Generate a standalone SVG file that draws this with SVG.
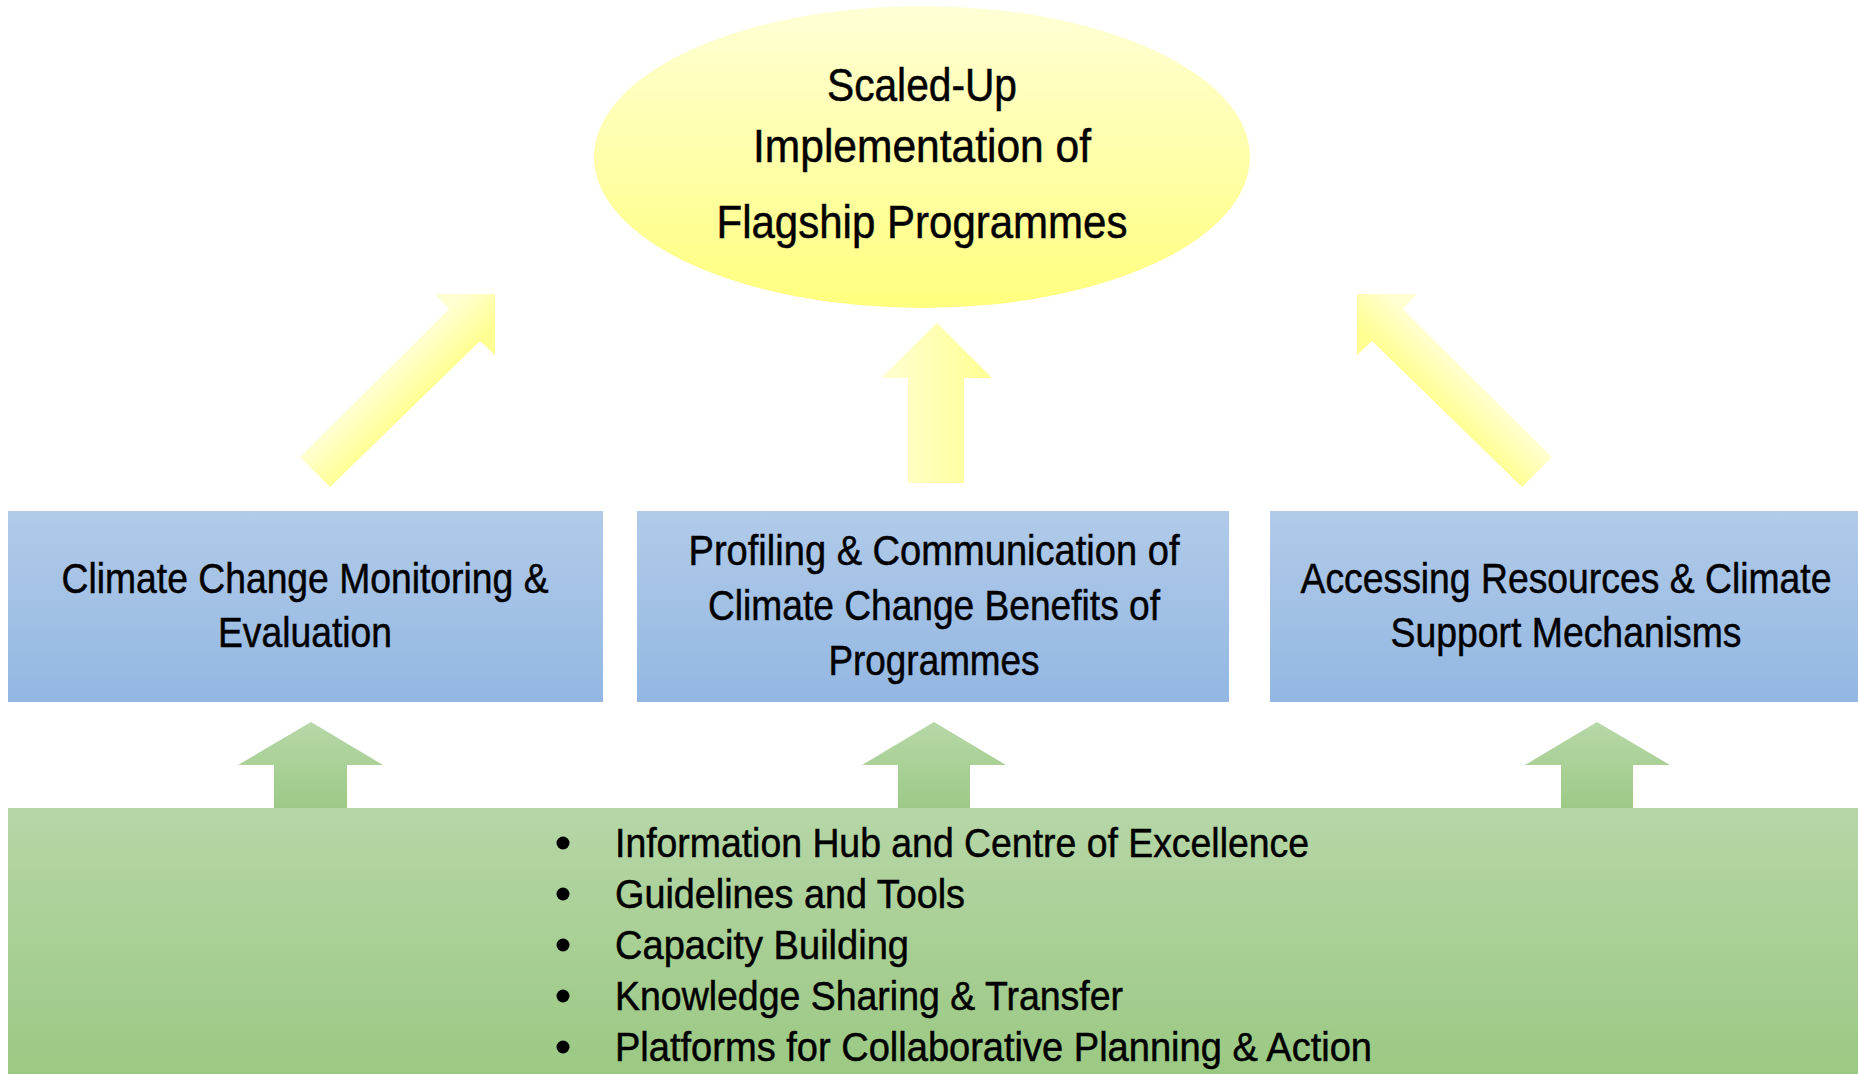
<svg xmlns="http://www.w3.org/2000/svg" width="1858" height="1074" viewBox="0 0 1858 1074">
<defs>
<linearGradient id="gEll" x1="0" y1="0" x2="0" y2="1">
<stop offset="0" stop-color="#FFFFD6"/>
<stop offset="1" stop-color="#FFFF7E"/>
</linearGradient>
<linearGradient id="gBlue" x1="0" y1="0" x2="0" y2="1">
<stop offset="0" stop-color="#B1CBE9"/>
<stop offset="1" stop-color="#93B7E2"/>
</linearGradient>
<linearGradient id="gGreen" x1="0" y1="0" x2="0" y2="1">
<stop offset="0" stop-color="#B6D6A7"/>
<stop offset="1" stop-color="#9BC983"/>
</linearGradient>
<linearGradient id="gGreenArrow" x1="0" y1="0" x2="0" y2="1">
<stop offset="0" stop-color="#B7D7A8"/>
<stop offset="1" stop-color="#9CCA86"/>
</linearGradient>
<linearGradient id="gYL" gradientUnits="userSpaceOnUse" x1="398" y1="359" x2="430" y2="391">
<stop offset="0" stop-color="#FFFFD2"/>
<stop offset="1" stop-color="#FFFF92"/>
</linearGradient>
<linearGradient id="gYR" gradientUnits="userSpaceOnUse" x1="1454" y1="359" x2="1422" y2="391">
<stop offset="0" stop-color="#FFFFD2"/>
<stop offset="1" stop-color="#FFFF92"/>
</linearGradient>
<linearGradient id="gYC" x1="0" y1="0" x2="1" y2="0">
<stop offset="0" stop-color="#FFFFD2"/>
<stop offset="1" stop-color="#FFFF92"/>
</linearGradient>
<style>
text { font-family: "Liberation Sans Narrow", "Arial Narrow", "Liberation Sans", Arial, sans-serif; fill: #000; stroke: #000; stroke-width: 0.5px; }
.big { font-size: 46px; text-anchor: middle; }
.box { font-size: 42px; text-anchor: middle; }
.li { font-size: 40px; }
</style>
</defs>
<rect x="0" y="0" width="1858" height="1074" fill="#FFFFFF"/>

<g id="connectors">
<polygon id="arrow-left" fill="url(#gYL)" points="495,294 435,294 449,309 300,457 330,487 480,341 495,355"/>
<polygon id="arrow-center" fill="url(#gYC)" points="937,323 992,378 964,378 964,483 908,483 908,378 881,378"/>
<polygon id="arrow-right" fill="url(#gYR)" points="1357,294 1417,294 1403,309 1552,457 1522,487 1372,341 1357,355"/>
<polygon id="green-arrow-1" fill="url(#gGreenArrow)" points="311,722 383,765 347,765 347,809 274,809 274,765 238,765"/>
<polygon id="green-arrow-2" fill="url(#gGreenArrow)" points="934,722 1006,765 970,765 970,809 898,809 898,765 862,765"/>
<polygon id="green-arrow-3" fill="url(#gGreenArrow)" points="1597,722 1670,765 1633,765 1633,809 1561,809 1561,765 1525,765"/>
</g>

<g id="node-goal">
<ellipse cx="922" cy="157" rx="328" ry="151" fill="url(#gEll)"/>
<text class="big" x="922" y="101" textLength="190" lengthAdjust="spacingAndGlyphs">Scaled-Up</text>
<text class="big" x="922" y="162" textLength="338" lengthAdjust="spacingAndGlyphs">Implementation of</text>
<text class="big" x="922" y="238" textLength="411" lengthAdjust="spacingAndGlyphs">Flagship Programmes</text>
</g>

<g id="node-monitoring">
<rect x="8" y="511" width="595" height="191" fill="url(#gBlue)"/>
<text class="box" x="305" y="593" textLength="487" lengthAdjust="spacingAndGlyphs">Climate Change Monitoring &amp;</text>
<text class="box" x="305" y="647" textLength="174" lengthAdjust="spacingAndGlyphs">Evaluation</text>
</g>

<g id="node-profiling">
<rect x="637" y="511" width="592" height="191" fill="url(#gBlue)"/>
<text class="box" x="934" y="565" textLength="491" lengthAdjust="spacingAndGlyphs">Profiling &amp; Communication of</text>
<text class="box" x="934" y="620" textLength="452" lengthAdjust="spacingAndGlyphs">Climate Change Benefits of</text>
<text class="box" x="934" y="675" textLength="211" lengthAdjust="spacingAndGlyphs">Programmes</text>
</g>

<g id="node-resources">
<rect x="1270" y="511" width="588" height="191" fill="url(#gBlue)"/>
<text class="box" x="1566" y="593" textLength="531" lengthAdjust="spacingAndGlyphs">Accessing Resources &amp; Climate</text>
<text class="box" x="1566" y="647" textLength="351" lengthAdjust="spacingAndGlyphs">Support Mechanisms</text>
</g>

<g id="node-foundation">
<rect x="8" y="808" width="1850" height="266" fill="url(#gGreen)"/>
<circle cx="563" cy="843" r="6.5" fill="#000"/>
<circle cx="563" cy="894" r="6.5" fill="#000"/>
<circle cx="563" cy="945" r="6.5" fill="#000"/>
<circle cx="563" cy="996" r="6.5" fill="#000"/>
<circle cx="563" cy="1047" r="6.5" fill="#000"/>
<text class="li" x="615" y="857" textLength="694" lengthAdjust="spacingAndGlyphs">Information Hub and Centre of Excellence</text>
<text class="li" x="615" y="908" textLength="350" lengthAdjust="spacingAndGlyphs">Guidelines and Tools</text>
<text class="li" x="615" y="959" textLength="294" lengthAdjust="spacingAndGlyphs">Capacity Building</text>
<text class="li" x="615" y="1010" textLength="508" lengthAdjust="spacingAndGlyphs">Knowledge Sharing &amp; Transfer</text>
<text class="li" x="615" y="1061" textLength="757" lengthAdjust="spacingAndGlyphs">Platforms for Collaborative Planning &amp; Action</text>
</g>
</svg>
